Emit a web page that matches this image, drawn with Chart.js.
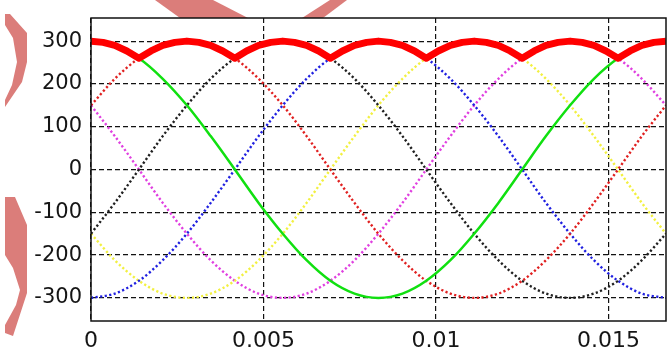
<!DOCTYPE html>
<html>
<head>
<meta charset="utf-8">
<script src="https://cdn.jsdelivr.net/npm/chart.js@4"></script>
<style>
  html, body { margin: 0; padding: 0; background: #fff; }
  #wrap { width: 668px; height: 349px; }
</style>
</head>
<body>
<div id="wrap"><canvas id="myChart" width="668" height="349"></canvas></div>
<script>
// time axis (s), one sample every 15 degrees of a 60 Hz period
var times = [0, 0.00069, 0.00139, 0.00208, 0.00278, 0.00347, 0.00417, 0.00486, 0.00556, 0.00625,
	0.00694, 0.00764, 0.00833, 0.00903, 0.00972, 0.01042, 0.01111, 0.01181, 0.0125, 0.01319,
	0.01389, 0.01458, 0.01528, 0.01597, 0.01667];

// phase voltages
var greenV   = [300, 290, 260, 212, 150, 78, 0, -78, -150, -212, -260, -290, -300, -290, -260, -212, -150, -78, 0, 78, 150, 212, 260, 290, 300];
var redV     = [150, 212, 260, 290, 300, 290, 260, 212, 150, 78, 0, -78, -150, -212, -260, -290, -300, -290, -260, -212, -150, -78, 0, 78, 150];
var blackV   = [-150, -78, 0, 78, 150, 212, 260, 290, 300, 290, 260, 212, 150, 78, 0, -78, -150, -212, -260, -290, -300, -290, -260, -212, -150];
var blueV    = [-300, -290, -260, -212, -150, -78, 0, 78, 150, 212, 260, 290, 300, 290, 260, 212, 150, 78, 0, -78, -150, -212, -260, -290, -300];
var yellowV  = [-150, -212, -260, -290, -300, -290, -260, -212, -150, -78, 0, 78, 150, 212, 260, 290, 300, 290, 260, 212, 150, 78, 0, -78, -150];
var magentaV = [150, 78, 0, -78, -150, -212, -260, -290, -300, -290, -260, -212, -150, -78, 0, 78, 150, 212, 260, 290, 300, 290, 260, 212, 150];

// upper envelope (thick red), sampled every 7.5 degrees
var envTimes = [0, 0.00035, 0.00069, 0.00104, 0.00139, 0.00174, 0.00208, 0.00243, 0.00278, 0.00313,
	0.00347, 0.00382, 0.00417, 0.00451, 0.00486, 0.00521, 0.00556, 0.0059, 0.00625, 0.0066,
	0.00694, 0.00729, 0.00764, 0.00799, 0.00833, 0.00868, 0.00903, 0.00938, 0.00972, 0.01007,
	0.01042, 0.01076, 0.01111, 0.01146, 0.01181, 0.01215, 0.0125, 0.01285, 0.01319, 0.01354,
	0.01389, 0.01424, 0.01458, 0.01493, 0.01528, 0.01563, 0.01597, 0.01632, 0.01667];
var envelopeV = [300, 297, 290, 277, 260, 277, 290, 297, 300, 297, 290, 277, 260, 277, 290, 297, 300,
	297, 290, 277, 260, 277, 290, 297, 300, 297, 290, 277, 260, 277, 290, 297, 300,
	297, 290, 277, 260, 277, 290, 297, 300, 297, 290, 277, 260, 277, 290, 297, 300];

var xTicks = [0, 0.005, 0.01, 0.015];
var yTicks = [-300, -200, -100, 0, 100, 200, 300];

function pts(vals, xs) {
	xs = xs || times;
	return vals.map((v, i) => ({ x: xs[i], y: v }));
}

function dotted(vals, color) {
	return {
		data: pts(vals),
		borderColor: color,
		borderWidth: 2.4,
		borderDash: [2.2, 2.4],
		pointRadius: 0,
		cubicInterpolationMode: 'monotone',
		order: 2
	};
}

// pink watermark bits outside the plot box + white plot box + frame
var backdrop = {
	id: 'backdrop',
	beforeDraw(chart) {
		var ctx = chart.ctx, a = chart.chartArea;
		ctx.save();
		ctx.fillStyle = '#fff';
		ctx.fillRect(0, 0, chart.width, chart.height);
		ctx.fillStyle = '#db7d7a';
		var shapes = [
			[[155, 0], [213, 0], [248, 18], [180, 18]],
			[[330, 0], [347, 0], [323, 18], [302, 18]],
			[[5, 14], [10, 14], [27, 33], [27, 62], [22, 82], [5, 107], [5, 100], [12, 85], [17, 62], [13, 38], [5, 25]],
			[[5, 197], [15, 197], [27, 225], [27, 293], [13, 336], [5, 333], [5, 325], [16, 305], [20, 290], [13, 268], [5, 255]]
		];
		shapes.forEach(s => {
			ctx.beginPath();
			s.forEach((p, i) => i ? ctx.lineTo(p[0], p[1]) : ctx.moveTo(p[0], p[1]));
			ctx.closePath();
			ctx.fill();
		});
		ctx.fillStyle = '#fff';
		ctx.fillRect(a.left, a.top, a.right - a.left, a.bottom - a.top);
		ctx.restore();
	},
	afterDraw(chart) {
		var ctx = chart.ctx, a = chart.chartArea;
		ctx.save();
		ctx.strokeStyle = '#111';
		ctx.lineWidth = 1.5;
		ctx.strokeRect(a.left, a.top, a.right - a.left, a.bottom - a.top);
		ctx.restore();
	}
};

var ctx = document.getElementById('myChart').getContext('2d');
var myChart = new Chart(ctx, {
	type: 'line',
	data: {
		datasets: [
			{
				data: pts(envelopeV, envTimes),
				borderColor: '#ff0000',
				borderWidth: 7,
				pointRadius: 0,
				tension: 0,
				borderJoinStyle: 'round',
				order: 0
			},
			{
				data: pts(greenV),
				borderColor: '#10e010',
				borderWidth: 2.5,
				pointRadius: 0,
				cubicInterpolationMode: 'monotone',
				order: 1
			},
			dotted(redV, '#e02020'),
			dotted(blackV, '#202020'),
			dotted(blueV, '#2020e0'),
			dotted(yellowV, '#f2f040'),
			dotted(magentaV, '#e040e0')
		]
	},
	options: {
		responsive: false,
		animation: false,
		layout: { padding: { top: 18, right: 2, left: 0, bottom: 0 } },
		plugins: { legend: { display: false }, tooltip: { enabled: false } },
		scales: {
			x: {
				type: 'linear',
				min: 0,
				max: 0.01667,
				afterBuildTicks: s => { s.ticks = xTicks.map(v => ({ value: v })); },
				afterFit: s => { s.height = 28; s.paddingLeft = 0; s.paddingRight = 0; },
				grid: { color: '#111', lineWidth: 1.2, drawTicks: false },
				border: { display: false, dash: [5, 3] },
				ticks: {
					padding: 7,
					maxRotation: 0,
					color: '#151515',
					font: { family: 'DejaVu Sans', size: 22 },
					callback: v => String(v)
				}
			},
			y: {
				min: -354,
				max: 354,
				afterBuildTicks: s => { s.ticks = yTicks.map(v => ({ value: v })); },
				afterFit: s => { s.width = 91; s.paddingTop = 0; s.paddingBottom = 0; },
				grid: { color: '#111', lineWidth: 1.2, drawTicks: false },
				border: { display: false, dash: [5, 3] },
				ticks: {
					padding: 9,
					color: '#151515',
					font: { family: 'DejaVu Sans', size: 21 },
					callback: v => String(v)
				}
			}
		}
	},
	plugins: [backdrop]
});
</script>
</body>
</html>
